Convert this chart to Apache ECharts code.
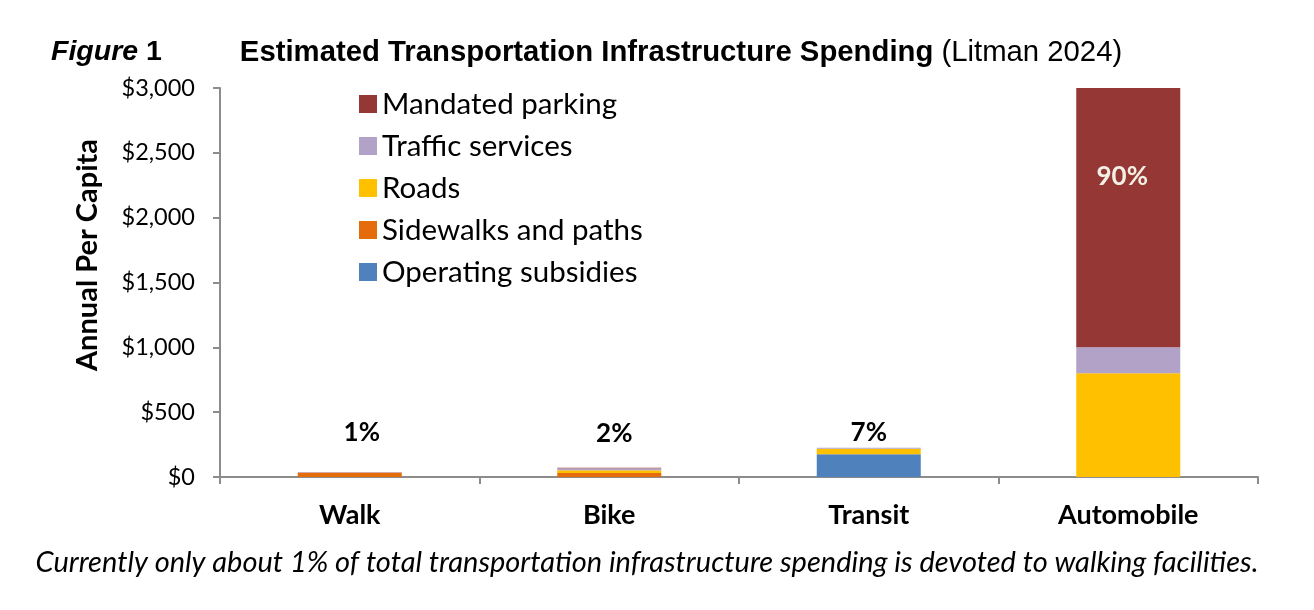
<!DOCTYPE html>
<html>
<head>
<meta charset="utf-8">
<script src="https://cdn.jsdelivr.net/npm/echarts@6/dist/echarts.min.js"></script>
<style>
html,body{margin:0;padding:0;background:#fff;}
#chart{width:1314px;height:610px;}
</style>
</head>
<body>
<div id="chart"></div>
<script>
const categories = ['Walk', 'Bike', 'Transit', 'Automobile'];
const operatingSubsidies = [0, 0, 175, 0];
const sidewalksAndPaths = [34, 31, 0, 0];
const roads = [0, 21, 43, 800];
const trafficServices = [5, 15, 8, 200];
const mandatedParking = [0, 5, 0, 2000];
const shareLabels = ['1%', '2%', '7%', '90%'];
const shareLabelValues = [340, 335, 345, 2318];
const yTicks = [0, 500, 1000, 1500, 2000, 2500, 3000];

const calibri = 'Lato, "Open Sans", sans-serif';
const arial = '"Liberation Sans", Arial, sans-serif';
const chart = echarts.init(document.getElementById('chart'), null, {renderer: 'canvas'});

function barSeries(name, data, color) {
  return {
    name: name, type: 'bar', stack: 'total', data: data,
    barWidth: 104, itemStyle: {color: color}, emphasis: {disabled: true}
  };
}

const labelShiftX = [12, 5, 0, -6];
const labelColors = ['#000000', '#000000', '#000000', '#F2EFE4'];

const option = {
  animation: false,
  title: {
    text: '{fi|Figure}{fn| 1}{sp|}{t|Estimated Transportation Infrastructure Spending}{r| (Litman 2024)}',
    left: 46, top: 33,
    textStyle: {
      rich: {
        fi: {fontFamily: arial, fontSize: 28.5, fontWeight: 'bold', fontStyle: 'italic', color: '#000'},
        fn: {fontFamily: arial, fontSize: 28.5, fontWeight: 'bold', color: '#000'},
        sp: {width: 78},
        t: {fontFamily: arial, fontSize: 29.3, fontWeight: 'bold', color: '#000'},
        r: {fontFamily: arial, fontSize: 29.3, fontWeight: 'normal', color: '#000'}
      }
    }
  },
  legend: {
    data: ['Mandated parking', 'Traffic services', 'Roads', 'Sidewalks and paths', 'Operating subsidies'],
    orient: 'vertical', left: 354, top: 84,
    itemWidth: 18, itemHeight: 18, itemGap: 12,
    icon: 'rect',
    textStyle: {fontFamily: calibri, fontSize: 29.5, color: '#000', lineHeight: 30}
  },
  grid: {left: 220, right: 56, top: 88, bottom: 133},
  xAxis: {
    type: 'category', data: categories,
    axisLine: {lineStyle: {color: '#8c8c8c', width: 2}},
    axisTick: {show: true, length: 7, lineStyle: {color: '#8c8c8c', width: 2}},
    axisLabel: {fontFamily: calibri, fontSize: 27, fontWeight: 'bold', color: '#000', margin: 25}
  },
  yAxis: {
    type: 'value', min: 0, max: 3000, interval: 500,
    axisLine: {show: true, lineStyle: {color: '#8c8c8c', width: 2}},
    axisTick: {show: true, length: 7, lineStyle: {color: '#8c8c8c', width: 2}},
    splitLine: {show: false},
    axisLabel: {
      fontFamily: calibri, fontSize: 23.5, color: '#000', margin: 25,
      formatter: function (v) { return yTicks.indexOf(v) >= 0 ? '$' + v.toLocaleString('en-US') : ''; }
    }
  },
  graphic: [
    {
      type: 'text', x: 88, y: 255, rotation: Math.PI / 2,
      style: {text: 'Annual Per Capita', fontFamily: calibri, fontSize: 29, fontWeight: 'bold', fill: '#000', align: 'center', verticalAlign: 'middle'}
    },
    {
      type: 'text', x: 647, y: 563,
      style: {text: 'Currently only about 1% of total transportation infrastructure spending is devoted to walking facilities.', fontFamily: calibri, fontSize: 29, fontStyle: 'italic', fill: '#000', align: 'center', verticalAlign: 'middle'}
    }
  ],
  series: [
    barSeries('Operating subsidies', operatingSubsidies, '#4F81BD'),
    barSeries('Sidewalks and paths', sidewalksAndPaths, '#E46C0A'),
    barSeries('Roads', roads, '#FFC000'),
    barSeries('Traffic services', trafficServices, '#B3A2C7'),
    barSeries('Mandated parking', mandatedParking, '#953735'),
    {
      type: 'scatter', symbolSize: 1, silent: true,
      itemStyle: {color: '#000', opacity: 0},
      data: shareLabelValues.map(function (v, i) {
        return {value: [categories[i], v]};
      }),
      label: {
        show: true, position: 'inside',
        formatter: function (p) { return '{l' + (p.dataIndex === 3 ? 'w' : 'b') + '|' + shareLabels[p.dataIndex] + '}'; },
        rich: {
          lb: {fontFamily: calibri, fontSize: 26, fontWeight: 'bold', color: labelColors[0], opacity: 1},
          lw: {fontFamily: calibri, fontSize: 26, fontWeight: 'bold', color: labelColors[3], opacity: 1}
        },
        opacity: 1, textBorderWidth: 0
      },
      labelLayout: function (params) {
        return {dx: labelShiftX[params.dataIndex]};
      }
    }
  ]
};
chart.setOption(option);
</script>
</body>
</html>
